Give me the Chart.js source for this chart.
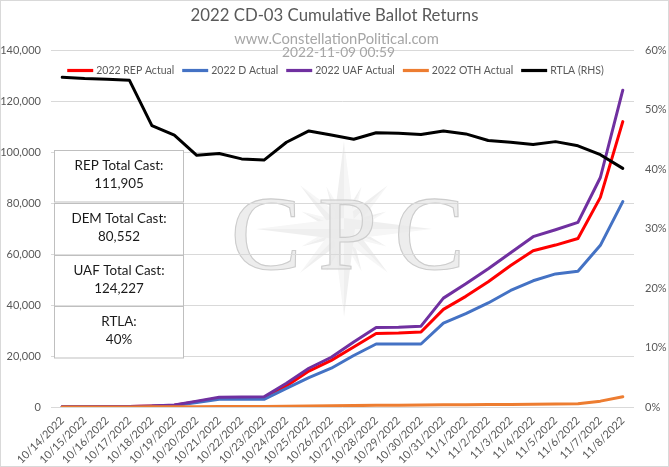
<!DOCTYPE html>
<html>
<head>
<meta charset="utf-8">
<script src="https://cdn.jsdelivr.net/npm/chart.js@4.4.1/dist/chart.umd.min.js"></script>
<style>
html,body{margin:0;padding:0;background:#fff;}
canvas{display:block;}
</style>
</head>
<body>
<canvas id="c" width="669" height="467"></canvas>
<script>
// ---------------- DATA ----------------
const dates = ['10/14/2022','10/15/2022','10/16/2022','10/17/2022','10/18/2022','10/19/2022','10/20/2022','10/21/2022','10/22/2022','10/23/2022','10/24/2022','10/25/2022','10/26/2022','10/27/2022','10/28/2022','10/29/2022','10/30/2022','10/31/2022','11/1/2022','11/2/2022','11/3/2022','11/4/2022','11/5/2022','11/6/2022','11/7/2022','11/8/2022'];
const repActual = [80,100,120,160,350,700,2100,3400,3500,3600,8200,14100,18300,23500,28800,29000,29400,38300,43400,49100,55500,61300,63500,66100,82200,111905];
const demActual = [60,80,100,130,300,600,1800,3000,3000,3000,7300,11500,15200,20200,24700,24700,24700,32900,36600,40800,45700,49500,52200,53200,63400,80552];
const uafActual = [100,120,150,200,400,800,2300,3800,3900,4000,9300,15200,19500,25500,31200,31300,31700,42700,48300,54200,60500,66800,69500,72400,90000,124227];
const othActual = [20,25,30,35,50,80,130,170,200,220,300,380,450,550,650,700,750,850,900,950,1000,1100,1200,1300,2300,4000];
const rtlaPct = [55.4,55.2,55.1,54.9,47.3,45.7,42.3,42.6,41.7,41.5,44.5,46.4,45.7,45.0,46.1,46.0,45.8,46.4,45.9,44.8,44.5,44.1,44.6,43.9,42.4,40.1];
const leftTicks = [0,20000,40000,60000,80000,100000,120000,140000];
const rightTicks = [0,10,20,30,40,50,60];
const seriesNames = ['2022 REP Actual','2022 D Actual','2022 UAF Actual','2022 OTH Actual','RTLA (RHS)'];
const titleText = '2022 CD-03 Cumulative Ballot Returns';
const subtitleText = 'www.ConstellationPolitical.com';
const stampText = '2022-11-09 00:59';

// ---------------- STYLE ----------------
const FONT = 'Lato, "Open Sans", sans-serif';
const TXT = '#595959';
const GRID = '#D9D9D9';
const colors = ['#FF0000','#4472C4','#7030A0','#ED7D31','#000000'];

const fmt = v => Math.round(v).toLocaleString('en-US');

function fitSize(ctx, text, family, target, weight) {
  ctx.font = (weight||'') + ' 100px ' + family;
  return 100 * target / ctx.measureText(text).width;
}

const decorPlugin = {
  id: 'decor',
  beforeDraw(chart) {
    const {ctx, chartArea: ca, width, height} = chart;
    ctx.save();
    ctx.fillStyle = '#fff';
    ctx.fillRect(0, 0, width, height);
    // watermark compass
    const cx = (ca.left + ca.right) / 2 + 1.5, cy = (ca.top + ca.bottom) / 2 + 0.5;
    const spikes = [];
    for (let k = 0; k < 16; k++) {
      const ang = k * Math.PI / 8 - Math.PI / 2;
      let len, hw;
      if (k % 4 === 0) { len = 88; hw = 11; }
      else if (k % 2 === 0) { len = 62; hw = 9; }
      else { len = 46; hw = 7; }
      spikes.push({ang, len, hw});
    }
    spikes.sort((a, b) => a.len - b.len);
    for (const s of spikes) {
      const tx = cx + Math.cos(s.ang) * s.len, ty = cy + Math.sin(s.ang) * s.len;
      const px = -Math.sin(s.ang) * s.hw, py = Math.cos(s.ang) * s.hw;
      ctx.beginPath(); ctx.moveTo(cx, cy); ctx.lineTo(cx + px, cy + py); ctx.lineTo(tx, ty); ctx.closePath();
      ctx.fillStyle = '#F6F6F6'; ctx.fill();
      ctx.beginPath(); ctx.moveTo(cx, cy); ctx.lineTo(cx - px, cy - py); ctx.lineTo(tx, ty); ctx.closePath();
      ctx.fillStyle = '#EFEFEF'; ctx.fill();
    }
    // CPC letters
    ctx.font = '106px "Liberation Serif", "DejaVu Serif", serif';
    ctx.textAlign = 'center';
    ctx.textBaseline = 'alphabetic';
    const letters = [['C', -78], ['P', 3.5], ['C', 85.5]];
    for (const [ch, dx] of letters) {
      ctx.fillStyle = 'rgba(232,232,232,0.8)';
      ctx.fillText(ch, cx + dx, cy + 39.5);
      ctx.lineWidth = 1.1;
      ctx.strokeStyle = '#CCCCCC';
      ctx.strokeText(ch, cx + dx, cy + 39.5);
    }
    ctx.restore();
  },
  afterDraw(chart) {
    const {ctx, chartArea: ca, width, height} = chart;
    ctx.save();
    // outer border
    ctx.strokeStyle = GRID; ctx.lineWidth = 1;
    ctx.strokeRect(0.5, 0.5, width - 1, height - 1);
    // titles
    ctx.textAlign = 'center';
    ctx.textBaseline = 'alphabetic';
    let sz = fitSize(ctx, titleText, FONT, 288);
    ctx.font = sz + 'px ' + FONT; ctx.fillStyle = TXT;
    ctx.fillText(titleText, width / 2, 21);
    sz = fitSize(ctx, subtitleText, FONT, 205);
    ctx.font = sz + 'px ' + FONT; ctx.fillStyle = '#A6A6A6';
    ctx.fillText(subtitleText, width / 2 + 2, 43.5);
    sz = fitSize(ctx, stampText, FONT, 113);
    ctx.font = sz + 'px ' + FONT; ctx.fillStyle = '#A6A6A6';
    ctx.fillText(stampText, width / 2 + 4, 57);
    // legend
    const lsz = fitSize(ctx, seriesNames[0], FONT, 78);
    ctx.font = lsz + 'px ' + FONT;
    const lineLen = 26, gapLT = 3, gapItem = 8;
    const ds = chart.data.datasets;
    const tw = ds.map(d => ctx.measureText(d.label).width);
    let total = 0;
    tw.forEach((w, i) => { total += lineLen + gapLT + w + (i < tw.length - 1 ? gapItem : 0); });
    let x = width / 2 + 1 - total / 2;
    const ly = 70.5;
    ctx.textAlign = 'left'; ctx.textBaseline = 'middle';
    ds.forEach((d, i) => {
      ctx.strokeStyle = d.borderColor; ctx.lineWidth = 3.2; ctx.lineCap = 'butt';
      ctx.beginPath(); ctx.moveTo(x, ly); ctx.lineTo(x + lineLen, ly); ctx.stroke();
      ctx.fillStyle = TXT;
      ctx.fillText(d.label, x + lineLen + gapLT, ly + 0.5);
      x += lineLen + gapLT + tw[i] + gapItem;
    });
    // summary boxes
    const lastIdx = dates.length - 1;
    const boxes = [
      ['REP Total Cast:', fmt(repActual[lastIdx])],
      ['DEM Total Cast:', fmt(demActual[lastIdx])],
      ['UAF Total Cast:', fmt(uafActual[lastIdx])],
      ['RTLA:', Math.round(rtlaPct[lastIdx]) + '%']
    ];
    const bx = ca.left + 3.5, bw = 129, tops = [150.5, 203.5, 255.5, 306.5], bh = [51.5, 51.5, 50.5, 51.5];
    const bsz = fitSize(ctx, 'REP Total Cast:', FONT, 89);
    boxes.forEach((b, i) => {
      ctx.fillStyle = '#fff';
      ctx.fillRect(bx, tops[i], bw, bh[i]);
      ctx.strokeStyle = '#BFBFBF'; ctx.lineWidth = 1;
      ctx.strokeRect(bx, tops[i], bw, bh[i]);
      ctx.fillStyle = '#1A1A1A';
      ctx.font = bsz + 'px ' + FONT;
      ctx.textAlign = 'center'; ctx.textBaseline = 'alphabetic';
      ctx.fillText(b[0], bx + bw / 2, tops[i] + 19);
      ctx.fillText(b[1], bx + bw / 2, tops[i] + 37.5);
    });
    ctx.restore();
  }
};

const ctx = document.getElementById('c').getContext('2d');
const seriesData = [repActual, demActual, uafActual, othActual, rtlaPct];
const chart = new Chart(ctx, {
  type: 'line',
  data: {
    labels: dates,
    datasets: seriesData.map((arr, i) => ({
      label: seriesNames[i],
      data: arr,
      borderColor: colors[i],
      backgroundColor: colors[i],
      borderWidth: 3,
      pointRadius: 0,
      tension: 0,
      fill: false,
      yAxisID: i === 4 ? 'y1' : 'y',
      order: 5 - i,
      borderJoinStyle: 'round',
      borderCapStyle: 'round'
    }))
  },
  options: {
    responsive: false,
    animation: false,
    devicePixelRatio: 1,
    layout: { padding: { top: 50, left: 0, right: 0, bottom: 0 } },
    plugins: {
      legend: { display: false },
      title: { display: false },
      tooltip: { enabled: false }
    },
    scales: {
      x: {
        type: 'category',
        offset: true,
        grid: { display: false, drawTicks: false },
        border: { display: false },
        ticks: {
          autoSkip: false, maxRotation: 45, minRotation: 45,
          color: TXT, font: { family: FONT, size: 11 }, padding: 7
        },
        afterFit: s => { s.height = 60; }
      },
      y: {
        position: 'left',
        min: 0, max: 140000,
        afterBuildTicks: s => { s.ticks = leftTicks.map(v => ({value: v})); },
        grid: { color: GRID, lineWidth: 1, drawTicks: false },
        border: { display: false },
        ticks: { color: TXT, font: { family: FONT, size: 11 }, padding: 10, callback: v => fmt(v) },
        afterFit: s => { s.width = 51; }
      },
      y1: {
        position: 'right',
        min: 0, max: 60,
        afterBuildTicks: s => { s.ticks = rightTicks.map(v => ({value: v})); },
        grid: { drawOnChartArea: false, drawTicks: false },
        border: { display: false },
        ticks: { color: TXT, font: { family: FONT, size: 11 }, padding: 11, callback: v => v + '%' },
        afterFit: s => { s.width = 35; }
      }
    }
  },
  plugins: [decorPlugin]
});
</script>
</body>
</html>
